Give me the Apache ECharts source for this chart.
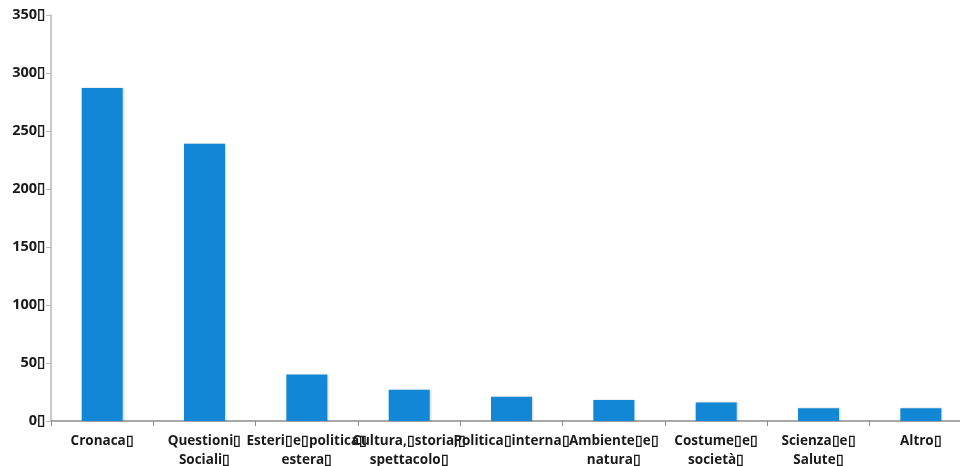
<!DOCTYPE html>
<html>
<head>
<meta charset="utf-8">
<script src="https://cdn.jsdelivr.net/npm/echarts@6/dist/echarts.min.js"></script>
<style>
  html, body { margin: 0; padding: 0; background: #fff; }
  #chart { width: 960px; height: 466px; }
</style>
</head>
<body>
<div id="chart"></div>
<script>
// the boxes are how the source rendered its missing glyphs
const B = "\u25AF";

let categories = [
  "Cronaca" + B,
  "Questioni" + B + "\nSociali" + B,
  "Esteri" + B + "e" + B + "politica" + B + "\nestera" + B,
  "Cultura," + B + "storia," + B + "\nspettacolo" + B,
  "Politica" + B + "interna" + B,
  "Ambiente" + B + "e" + B + "\nnatura" + B,
  "Costume" + B + "e" + B + "\nsociet\u00e0" + B,
  "Scienza" + B + "e" + B + "\nSalute" + B,
  "Altro" + B,
];
let values = [287, 239, 40, 27, 21, 18, 16, 11, 11];
let yTicks = [0, 50, 100, 150, 200, 250, 300, 350];

let chartElement = document.getElementById("chart");
let chart = echarts.init(chartElement);

let labelFont = {
  color: "#1a1a1a",
  fontFamily: "'Open Sans', 'Noto Sans', sans-serif",
  fontWeight: "bold",
  fontSize: 13.5,
};

chart.setOption({
  animation: false,
  grid: {
    left: 51,
    top: 15,
    width: 921,
    height: 406,
    containLabel: false,
    outerBoundsMode: "none",
  },
  xAxis: {
    type: "category",
    data: categories,
    axisLine: { lineStyle: { color: "#8c8c8c", width: 1.5 } },
    axisTick: { show: true, length: 5, lineStyle: { color: "#8c8c8c" } },
    axisLabel: Object.assign({ interval: 0, margin: 11, lineHeight: 19 }, labelFont),
  },
  yAxis: {
    type: "value",
    min: yTicks[0],
    max: yTicks[yTicks.length - 1],
    interval: 50,
    splitLine: { show: false },
    axisLine: { show: true, lineStyle: { color: "#b8b8b8", width: 1.5 } },
    axisTick: { show: true, length: 5, lineStyle: { color: "#b8b8b8" } },
    axisLabel: Object.assign({
      margin: 6,
      formatter: (v) => v + B,
    }, labelFont, { fontSize: 14.5 }),
  },
  series: [
    {
      type: "bar",
      data: values,
      barWidth: 41,
      itemStyle: {
        color: "#1287d6",
        shadowColor: "rgba(0,0,0,0.18)",
        shadowBlur: 2,
        shadowOffsetX: 1,
        shadowOffsetY: 0,
      },
    },
  ],
});

window.addEventListener("resize", () => {
  chart.resize();
});
</script>
</body>
</html>
